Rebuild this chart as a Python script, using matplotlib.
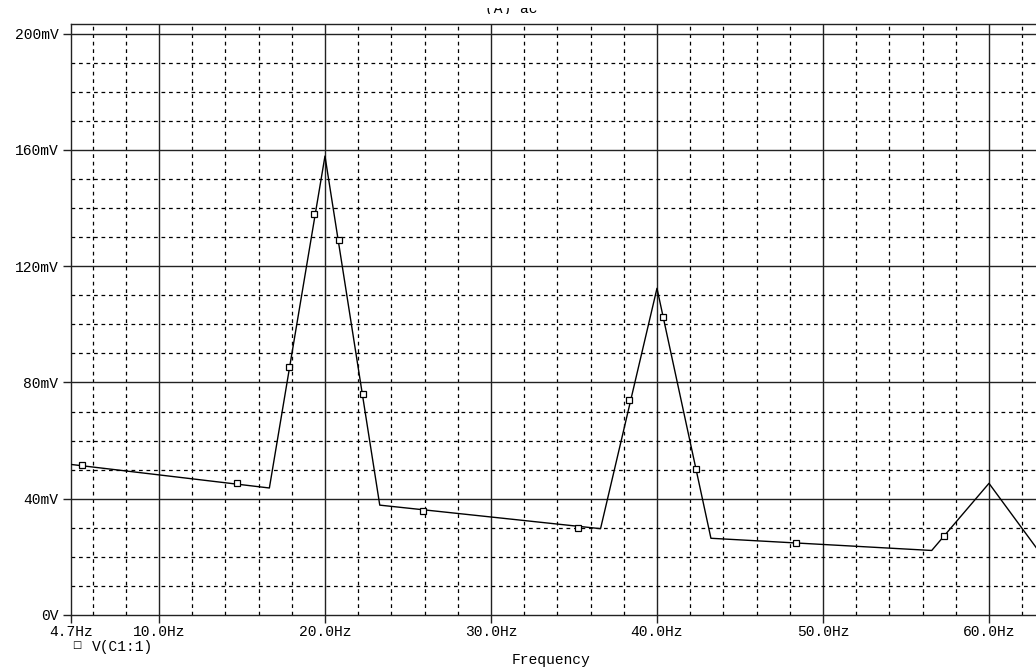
#!/usr/bin/env python3

import numpy as np
import matplotlib
matplotlib.use("Agg")
import matplotlib.pyplot as plt
from matplotlib.ticker import FixedLocator
from matplotlib.transforms import Bbox

# trace V(C1:1), polyline vertices (Hz, mV)
line_freq = [4.7, 16.65, 20.0, 23.3, 36.6, 40.0, 43.25, 56.55, 60.0, 63.1]
line_mv = [51.8, 43.7, 157.9, 37.8, 29.7, 112.4, 26.4, 22.2, 45.3, 21.2]

# symbol positions on the trace
marker_freq = [5.36, 14.68, 17.85, 19.34, 20.83, 22.27, 25.92, 35.22, 38.3, 40.36, 42.33, 48.36, 57.27]
marker_mv = [51.5, 45.3, 85.2, 137.8, 128.9, 76.0, 35.9, 30.1, 73.9, 102.4, 50.1, 24.7, 27.3]

x_ticks = [4.7, 10, 20, 30, 40, 50, 60]
x_labels = ["4.7Hz", "10.0Hz", "20.0Hz", "30.0Hz", "40.0Hz", "50.0Hz", "60.0Hz"]
y_ticks = [0, 40, 80, 120, 160, 200]
y_labels = ["0V", "40mV", "80mV", "120mV", "160mV", "200mV"]

plt.rcParams["font.family"] = ["Liberation Mono", "DejaVu Sans Mono"]
plt.rcParams["font.size"] = 10.5

W, H = 1036, 670
fig = plt.figure(figsize=(W / 100, H / 100), dpi=100)
left, right, top, bottom = 71, 1041, 24, 615
ax = fig.add_axes([left / W, (H - bottom) / H, (right - left) / W, (bottom - top) / H])

px_per_hz = 16.6
ax.set_xlim(4.7, 4.7 + (right - left) / px_per_hz)
ax.set_ylim(0, 200 * (bottom - top) / (bottom - 33.7))

# grid: solid majors, dashed minors
for f in range(6, 64, 2):
    if f % 10 == 0:
        ax.axvline(f, color="#222222", lw=1.0, zorder=1)
    else:
        ax.axvline(f, color="black", lw=0.9, ls=(0, (3, 3)), zorder=1)
for v in range(10, 201, 10):
    if v % 40 == 0:
        ax.axhline(v, color="#222222", lw=1.0, zorder=1)
    else:
        ax.axhline(v, color="black", lw=0.9, ls=(0, (3, 3)), zorder=1)

ax.plot(line_freq, line_mv, color="black", lw=1.0, zorder=3)
ax.plot(marker_freq, marker_mv, ls="none", marker="s", ms=5, mfc="white",
        mec="black", mew=0.9, zorder=4)

ax.xaxis.set_major_locator(FixedLocator(x_ticks))
ax.set_xticklabels(x_labels)
ax.yaxis.set_major_locator(FixedLocator(y_ticks))
ax.set_yticklabels(y_labels)
ax.tick_params(axis="both", direction="out", length=6, width=1.0, color="#222222")
ax.tick_params(axis="x", pad=1)
ax.tick_params(axis="y", pad=3)
for s in ax.spines.values():
    s.set_color("#222222")
    s.set_linewidth(1.0)

# legend entry and axis title below the plot
fig.text(77 / W, (H - 645) / H, "\u25a1", ha="center", va="center", fontsize=7,
         family="DejaVu Sans")
fig.text(92 / W, (H - 647) / H, "V(C1:1)", ha="left", va="center")
fig.text(551 / W, (H - 660) / H, "Frequency", ha="center", va="center")

# title is mostly hidden in the original, only its lower edge shows
title = fig.text(511 / W, (H - 13) / H, "(A) ac", ha="center", va="baseline")
title.set_clip_box(Bbox([[0, H - 14], [W, H - 8]]))
title.set_clip_on(True)

fig.savefig("out.png", dpi=100)
plt.close(fig)
